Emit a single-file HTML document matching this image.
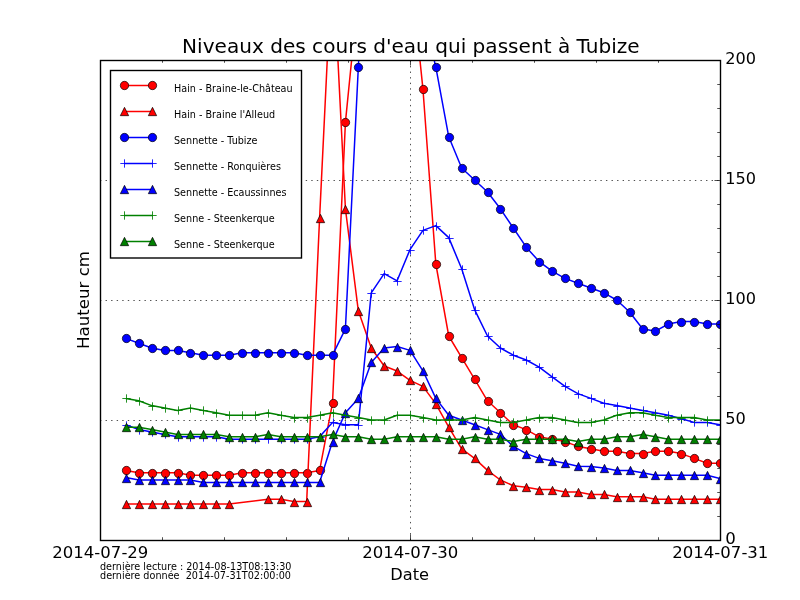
<!DOCTYPE html>
<html lang="fr"><head><meta charset="utf-8"><title>Niveaux des cours d'eau qui passent à Tubize</title>
<style>html,body{margin:0;padding:0;background:#fff}svg{display:block}</style></head>
<body>
<svg width="800" height="600" viewBox="0 0 800 600" font-family="'DejaVu Sans', 'Liberation Sans', sans-serif" fill="#000">
<rect width="800" height="600" fill="#fff"/>
<defs><clipPath id="ax"><rect x="100" y="60" width="620" height="480"/></clipPath></defs>
<g stroke="#000" stroke-width="0.69" stroke-dasharray="1.39 4.17" fill="none">
<line x1="100" x2="720" y1="420.5" y2="420.5"/>
<line x1="100" x2="720" y1="300.5" y2="300.5"/>
<line x1="100" x2="720" y1="180.5" y2="180.5"/>
<line x1="410.5" x2="410.5" y1="540" y2="60"/>
</g>
<g clip-path="url(#ax)">
<polyline points="125.83,470.4 138.75,472.8 151.67,472.8 164.58,472.8 177.5,472.8 190.42,475.2 203.33,475.2 216.25,475.2 229.17,475.2 242.08,472.8 255,472.8 267.92,472.8 280.83,472.8 293.75,472.8 306.67,472.8 319.58,470.4 332.5,403.2 345.42,122.4 358.33,-7.2 371.25,-88.8 384.17,-112.8 397.08,-88.8 410,-36 422.92,88.8 435.83,264 448.75,336 461.67,357.6 474.58,379.2 487.5,400.8 500.42,412.8 513.33,424.8 526.25,429.6 539.17,436.8 552.08,439.2 565,441.6 577.92,446.4 590.83,448.8 603.75,451.2 616.67,451.2 629.58,453.6 642.5,453.6 655.42,451.2 668.33,451.2 681.25,453.6 694.17,458.4 707.08,463.2 720,463.2" fill="none" stroke="#ff0000" stroke-width="1.5" stroke-linejoin="round"/>
<circle cx="126.5" cy="470.5" r="4.17" fill="#ff0000" stroke="#000" stroke-width="0.69"/>
<circle cx="139.5" cy="473.5" r="4.17" fill="#ff0000" stroke="#000" stroke-width="0.69"/>
<circle cx="152.5" cy="473.5" r="4.17" fill="#ff0000" stroke="#000" stroke-width="0.69"/>
<circle cx="165.5" cy="473.5" r="4.17" fill="#ff0000" stroke="#000" stroke-width="0.69"/>
<circle cx="178.5" cy="473.5" r="4.17" fill="#ff0000" stroke="#000" stroke-width="0.69"/>
<circle cx="190.5" cy="475.5" r="4.17" fill="#ff0000" stroke="#000" stroke-width="0.69"/>
<circle cx="203.5" cy="475.5" r="4.17" fill="#ff0000" stroke="#000" stroke-width="0.69"/>
<circle cx="216.5" cy="475.5" r="4.17" fill="#ff0000" stroke="#000" stroke-width="0.69"/>
<circle cx="229.5" cy="475.5" r="4.17" fill="#ff0000" stroke="#000" stroke-width="0.69"/>
<circle cx="242.5" cy="473.5" r="4.17" fill="#ff0000" stroke="#000" stroke-width="0.69"/>
<circle cx="255.5" cy="473.5" r="4.17" fill="#ff0000" stroke="#000" stroke-width="0.69"/>
<circle cx="268.5" cy="473.5" r="4.17" fill="#ff0000" stroke="#000" stroke-width="0.69"/>
<circle cx="281.5" cy="473.5" r="4.17" fill="#ff0000" stroke="#000" stroke-width="0.69"/>
<circle cx="294.5" cy="473.5" r="4.17" fill="#ff0000" stroke="#000" stroke-width="0.69"/>
<circle cx="307.5" cy="473.5" r="4.17" fill="#ff0000" stroke="#000" stroke-width="0.69"/>
<circle cx="320.5" cy="470.5" r="4.17" fill="#ff0000" stroke="#000" stroke-width="0.69"/>
<circle cx="333.5" cy="403.5" r="4.17" fill="#ff0000" stroke="#000" stroke-width="0.69"/>
<circle cx="345.5" cy="122.5" r="4.17" fill="#ff0000" stroke="#000" stroke-width="0.69"/>
<circle cx="423.5" cy="89.5" r="4.17" fill="#ff0000" stroke="#000" stroke-width="0.69"/>
<circle cx="436.5" cy="264.5" r="4.17" fill="#ff0000" stroke="#000" stroke-width="0.69"/>
<circle cx="449.5" cy="336.5" r="4.17" fill="#ff0000" stroke="#000" stroke-width="0.69"/>
<circle cx="462.5" cy="358.5" r="4.17" fill="#ff0000" stroke="#000" stroke-width="0.69"/>
<circle cx="475.5" cy="379.5" r="4.17" fill="#ff0000" stroke="#000" stroke-width="0.69"/>
<circle cx="488.5" cy="401.5" r="4.17" fill="#ff0000" stroke="#000" stroke-width="0.69"/>
<circle cx="500.5" cy="413.5" r="4.17" fill="#ff0000" stroke="#000" stroke-width="0.69"/>
<circle cx="513.5" cy="425.5" r="4.17" fill="#ff0000" stroke="#000" stroke-width="0.69"/>
<circle cx="526.5" cy="430.5" r="4.17" fill="#ff0000" stroke="#000" stroke-width="0.69"/>
<circle cx="539.5" cy="437.5" r="4.17" fill="#ff0000" stroke="#000" stroke-width="0.69"/>
<circle cx="552.5" cy="439.5" r="4.17" fill="#ff0000" stroke="#000" stroke-width="0.69"/>
<circle cx="565.5" cy="442.5" r="4.17" fill="#ff0000" stroke="#000" stroke-width="0.69"/>
<circle cx="578.5" cy="446.5" r="4.17" fill="#ff0000" stroke="#000" stroke-width="0.69"/>
<circle cx="591.5" cy="449.5" r="4.17" fill="#ff0000" stroke="#000" stroke-width="0.69"/>
<circle cx="604.5" cy="451.5" r="4.17" fill="#ff0000" stroke="#000" stroke-width="0.69"/>
<circle cx="617.5" cy="451.5" r="4.17" fill="#ff0000" stroke="#000" stroke-width="0.69"/>
<circle cx="630.5" cy="454.5" r="4.17" fill="#ff0000" stroke="#000" stroke-width="0.69"/>
<circle cx="643.5" cy="454.5" r="4.17" fill="#ff0000" stroke="#000" stroke-width="0.69"/>
<circle cx="655.5" cy="451.5" r="4.17" fill="#ff0000" stroke="#000" stroke-width="0.69"/>
<circle cx="668.5" cy="451.5" r="4.17" fill="#ff0000" stroke="#000" stroke-width="0.69"/>
<circle cx="681.5" cy="454.5" r="4.17" fill="#ff0000" stroke="#000" stroke-width="0.69"/>
<circle cx="694.5" cy="458.5" r="4.17" fill="#ff0000" stroke="#000" stroke-width="0.69"/>
<circle cx="707.5" cy="463.5" r="4.17" fill="#ff0000" stroke="#000" stroke-width="0.69"/>
<circle cx="720.5" cy="463.5" r="4.17" fill="#ff0000" stroke="#000" stroke-width="0.69"/>
<polyline points="125.83,504 138.75,504 151.67,504 164.58,504 177.5,504 190.42,504 203.33,504 216.25,504 229.17,504 267.92,499.2 280.83,499.2 293.75,501.6 306.67,501.6 319.58,218.4 332.5,-48 345.42,208.8 358.33,310.8 371.25,348 384.17,366 397.08,371.04 410,380.4 422.92,386.4 435.83,403.92 448.75,427.2 461.67,448.8 474.58,458.4 487.5,470.4 500.42,480 513.33,485.76 526.25,487.2 539.17,489.6 552.08,489.6 565,492 577.92,492 590.83,494.4 603.75,494.4 616.67,496.8 629.58,496.8 642.5,496.8 655.42,499.2 668.33,499.2 681.25,499.2 694.17,499.2 707.08,499.2 720,499.2" fill="none" stroke="#ff0000" stroke-width="1.5" stroke-linejoin="round"/>
<path d="M126.5 500.33L122.33 508.67L130.66 508.67Z" fill="#ff0000" stroke="#000" stroke-width="0.69" stroke-linejoin="miter"/>
<path d="M139.5 500.33L135.34 508.67L143.66 508.67Z" fill="#ff0000" stroke="#000" stroke-width="0.69" stroke-linejoin="miter"/>
<path d="M152.5 500.33L148.34 508.67L156.66 508.67Z" fill="#ff0000" stroke="#000" stroke-width="0.69" stroke-linejoin="miter"/>
<path d="M165.5 500.33L161.34 508.67L169.66 508.67Z" fill="#ff0000" stroke="#000" stroke-width="0.69" stroke-linejoin="miter"/>
<path d="M178.5 500.33L174.34 508.67L182.66 508.67Z" fill="#ff0000" stroke="#000" stroke-width="0.69" stroke-linejoin="miter"/>
<path d="M190.5 500.33L186.34 508.67L194.66 508.67Z" fill="#ff0000" stroke="#000" stroke-width="0.69" stroke-linejoin="miter"/>
<path d="M203.5 500.33L199.34 508.67L207.66 508.67Z" fill="#ff0000" stroke="#000" stroke-width="0.69" stroke-linejoin="miter"/>
<path d="M216.5 500.33L212.34 508.67L220.66 508.67Z" fill="#ff0000" stroke="#000" stroke-width="0.69" stroke-linejoin="miter"/>
<path d="M229.5 500.33L225.34 508.67L233.66 508.67Z" fill="#ff0000" stroke="#000" stroke-width="0.69" stroke-linejoin="miter"/>
<path d="M268.5 495.33L264.33 503.67L272.67 503.67Z" fill="#ff0000" stroke="#000" stroke-width="0.69" stroke-linejoin="miter"/>
<path d="M281.5 495.33L277.33 503.67L285.67 503.67Z" fill="#ff0000" stroke="#000" stroke-width="0.69" stroke-linejoin="miter"/>
<path d="M294.5 498.33L290.33 506.67L298.67 506.67Z" fill="#ff0000" stroke="#000" stroke-width="0.69" stroke-linejoin="miter"/>
<path d="M307.5 498.33L303.33 506.67L311.67 506.67Z" fill="#ff0000" stroke="#000" stroke-width="0.69" stroke-linejoin="miter"/>
<path d="M320.5 214.34L316.33 222.66L324.67 222.66Z" fill="#ff0000" stroke="#000" stroke-width="0.69" stroke-linejoin="miter"/>
<path d="M345.5 205.34L341.33 213.66L349.67 213.66Z" fill="#ff0000" stroke="#000" stroke-width="0.69" stroke-linejoin="miter"/>
<path d="M358.5 307.33L354.33 315.67L362.67 315.67Z" fill="#ff0000" stroke="#000" stroke-width="0.69" stroke-linejoin="miter"/>
<path d="M371.5 344.33L367.33 352.67L375.67 352.67Z" fill="#ff0000" stroke="#000" stroke-width="0.69" stroke-linejoin="miter"/>
<path d="M384.5 362.33L380.33 370.67L388.67 370.67Z" fill="#ff0000" stroke="#000" stroke-width="0.69" stroke-linejoin="miter"/>
<path d="M397.5 367.33L393.33 375.67L401.67 375.67Z" fill="#ff0000" stroke="#000" stroke-width="0.69" stroke-linejoin="miter"/>
<path d="M410.5 376.33L406.33 384.67L414.67 384.67Z" fill="#ff0000" stroke="#000" stroke-width="0.69" stroke-linejoin="miter"/>
<path d="M423.5 382.33L419.33 390.67L427.67 390.67Z" fill="#ff0000" stroke="#000" stroke-width="0.69" stroke-linejoin="miter"/>
<path d="M436.5 400.33L432.33 408.67L440.67 408.67Z" fill="#ff0000" stroke="#000" stroke-width="0.69" stroke-linejoin="miter"/>
<path d="M449.5 423.33L445.33 431.67L453.67 431.67Z" fill="#ff0000" stroke="#000" stroke-width="0.69" stroke-linejoin="miter"/>
<path d="M462.5 445.33L458.33 453.67L466.67 453.67Z" fill="#ff0000" stroke="#000" stroke-width="0.69" stroke-linejoin="miter"/>
<path d="M475.5 454.33L471.33 462.67L479.67 462.67Z" fill="#ff0000" stroke="#000" stroke-width="0.69" stroke-linejoin="miter"/>
<path d="M488.5 466.33L484.33 474.67L492.67 474.67Z" fill="#ff0000" stroke="#000" stroke-width="0.69" stroke-linejoin="miter"/>
<path d="M500.5 476.33L496.33 484.67L504.67 484.67Z" fill="#ff0000" stroke="#000" stroke-width="0.69" stroke-linejoin="miter"/>
<path d="M513.5 482.33L509.33 490.67L517.66 490.67Z" fill="#ff0000" stroke="#000" stroke-width="0.69" stroke-linejoin="miter"/>
<path d="M526.5 483.33L522.34 491.67L530.66 491.67Z" fill="#ff0000" stroke="#000" stroke-width="0.69" stroke-linejoin="miter"/>
<path d="M539.5 486.33L535.34 494.67L543.66 494.67Z" fill="#ff0000" stroke="#000" stroke-width="0.69" stroke-linejoin="miter"/>
<path d="M552.5 486.33L548.34 494.67L556.66 494.67Z" fill="#ff0000" stroke="#000" stroke-width="0.69" stroke-linejoin="miter"/>
<path d="M565.5 488.33L561.34 496.67L569.66 496.67Z" fill="#ff0000" stroke="#000" stroke-width="0.69" stroke-linejoin="miter"/>
<path d="M578.5 488.33L574.34 496.67L582.66 496.67Z" fill="#ff0000" stroke="#000" stroke-width="0.69" stroke-linejoin="miter"/>
<path d="M591.5 490.33L587.34 498.67L595.66 498.67Z" fill="#ff0000" stroke="#000" stroke-width="0.69" stroke-linejoin="miter"/>
<path d="M604.5 490.33L600.34 498.67L608.66 498.67Z" fill="#ff0000" stroke="#000" stroke-width="0.69" stroke-linejoin="miter"/>
<path d="M617.5 493.33L613.34 501.67L621.66 501.67Z" fill="#ff0000" stroke="#000" stroke-width="0.69" stroke-linejoin="miter"/>
<path d="M630.5 493.33L626.34 501.67L634.66 501.67Z" fill="#ff0000" stroke="#000" stroke-width="0.69" stroke-linejoin="miter"/>
<path d="M643.5 493.33L639.34 501.67L647.66 501.67Z" fill="#ff0000" stroke="#000" stroke-width="0.69" stroke-linejoin="miter"/>
<path d="M655.5 495.33L651.34 503.67L659.66 503.67Z" fill="#ff0000" stroke="#000" stroke-width="0.69" stroke-linejoin="miter"/>
<path d="M668.5 495.33L664.34 503.67L672.66 503.67Z" fill="#ff0000" stroke="#000" stroke-width="0.69" stroke-linejoin="miter"/>
<path d="M681.5 495.33L677.34 503.67L685.66 503.67Z" fill="#ff0000" stroke="#000" stroke-width="0.69" stroke-linejoin="miter"/>
<path d="M694.5 495.33L690.34 503.67L698.66 503.67Z" fill="#ff0000" stroke="#000" stroke-width="0.69" stroke-linejoin="miter"/>
<path d="M707.5 495.33L703.34 503.67L711.66 503.67Z" fill="#ff0000" stroke="#000" stroke-width="0.69" stroke-linejoin="miter"/>
<path d="M720.5 495.33L716.34 503.67L724.66 503.67Z" fill="#ff0000" stroke="#000" stroke-width="0.69" stroke-linejoin="miter"/>
<polyline points="125.83,338.4 138.75,343.2 151.67,348 164.58,350.4 177.5,350.4 190.42,352.8 203.33,355.2 216.25,355.2 229.17,355.2 242.08,352.8 255,352.8 267.92,352.8 280.83,352.8 293.75,352.8 306.67,355.2 319.58,355.2 332.5,355.2 345.42,328.8 358.33,67.2 371.25,-180 384.17,-228 397.08,-180 410,-84 422.92,12 435.83,67.2 448.75,136.8 461.67,168 474.58,180 487.5,192 500.42,208.8 513.33,228 526.25,247.2 539.17,261.6 552.08,271.2 565,278.4 577.92,283.2 590.83,288 603.75,292.8 616.67,300 629.58,312 642.5,328.8 655.42,331.2 668.33,324 681.25,321.6 694.17,321.6 707.08,324 720,324" fill="none" stroke="#0000ff" stroke-width="1.5" stroke-linejoin="round"/>
<circle cx="126.5" cy="338.5" r="4.17" fill="#0000ff" stroke="#000" stroke-width="0.69"/>
<circle cx="139.5" cy="343.5" r="4.17" fill="#0000ff" stroke="#000" stroke-width="0.69"/>
<circle cx="152.5" cy="348.5" r="4.17" fill="#0000ff" stroke="#000" stroke-width="0.69"/>
<circle cx="165.5" cy="350.5" r="4.17" fill="#0000ff" stroke="#000" stroke-width="0.69"/>
<circle cx="178.5" cy="350.5" r="4.17" fill="#0000ff" stroke="#000" stroke-width="0.69"/>
<circle cx="190.5" cy="353.5" r="4.17" fill="#0000ff" stroke="#000" stroke-width="0.69"/>
<circle cx="203.5" cy="355.5" r="4.17" fill="#0000ff" stroke="#000" stroke-width="0.69"/>
<circle cx="216.5" cy="355.5" r="4.17" fill="#0000ff" stroke="#000" stroke-width="0.69"/>
<circle cx="229.5" cy="355.5" r="4.17" fill="#0000ff" stroke="#000" stroke-width="0.69"/>
<circle cx="242.5" cy="353.5" r="4.17" fill="#0000ff" stroke="#000" stroke-width="0.69"/>
<circle cx="255.5" cy="353.5" r="4.17" fill="#0000ff" stroke="#000" stroke-width="0.69"/>
<circle cx="268.5" cy="353.5" r="4.17" fill="#0000ff" stroke="#000" stroke-width="0.69"/>
<circle cx="281.5" cy="353.5" r="4.17" fill="#0000ff" stroke="#000" stroke-width="0.69"/>
<circle cx="294.5" cy="353.5" r="4.17" fill="#0000ff" stroke="#000" stroke-width="0.69"/>
<circle cx="307.5" cy="355.5" r="4.17" fill="#0000ff" stroke="#000" stroke-width="0.69"/>
<circle cx="320.5" cy="355.5" r="4.17" fill="#0000ff" stroke="#000" stroke-width="0.69"/>
<circle cx="333.5" cy="355.5" r="4.17" fill="#0000ff" stroke="#000" stroke-width="0.69"/>
<circle cx="345.5" cy="329.5" r="4.17" fill="#0000ff" stroke="#000" stroke-width="0.69"/>
<circle cx="358.5" cy="67.5" r="4.17" fill="#0000ff" stroke="#000" stroke-width="0.69"/>
<circle cx="436.5" cy="67.5" r="4.17" fill="#0000ff" stroke="#000" stroke-width="0.69"/>
<circle cx="449.5" cy="137.5" r="4.17" fill="#0000ff" stroke="#000" stroke-width="0.69"/>
<circle cx="462.5" cy="168.5" r="4.17" fill="#0000ff" stroke="#000" stroke-width="0.69"/>
<circle cx="475.5" cy="180.5" r="4.17" fill="#0000ff" stroke="#000" stroke-width="0.69"/>
<circle cx="488.5" cy="192.5" r="4.17" fill="#0000ff" stroke="#000" stroke-width="0.69"/>
<circle cx="500.5" cy="209.5" r="4.17" fill="#0000ff" stroke="#000" stroke-width="0.69"/>
<circle cx="513.5" cy="228.5" r="4.17" fill="#0000ff" stroke="#000" stroke-width="0.69"/>
<circle cx="526.5" cy="247.5" r="4.17" fill="#0000ff" stroke="#000" stroke-width="0.69"/>
<circle cx="539.5" cy="262.5" r="4.17" fill="#0000ff" stroke="#000" stroke-width="0.69"/>
<circle cx="552.5" cy="271.5" r="4.17" fill="#0000ff" stroke="#000" stroke-width="0.69"/>
<circle cx="565.5" cy="278.5" r="4.17" fill="#0000ff" stroke="#000" stroke-width="0.69"/>
<circle cx="578.5" cy="283.5" r="4.17" fill="#0000ff" stroke="#000" stroke-width="0.69"/>
<circle cx="591.5" cy="288.5" r="4.17" fill="#0000ff" stroke="#000" stroke-width="0.69"/>
<circle cx="604.5" cy="293.5" r="4.17" fill="#0000ff" stroke="#000" stroke-width="0.69"/>
<circle cx="617.5" cy="300.5" r="4.17" fill="#0000ff" stroke="#000" stroke-width="0.69"/>
<circle cx="630.5" cy="312.5" r="4.17" fill="#0000ff" stroke="#000" stroke-width="0.69"/>
<circle cx="643.5" cy="329.5" r="4.17" fill="#0000ff" stroke="#000" stroke-width="0.69"/>
<circle cx="655.5" cy="331.5" r="4.17" fill="#0000ff" stroke="#000" stroke-width="0.69"/>
<circle cx="668.5" cy="324.5" r="4.17" fill="#0000ff" stroke="#000" stroke-width="0.69"/>
<circle cx="681.5" cy="322.5" r="4.17" fill="#0000ff" stroke="#000" stroke-width="0.69"/>
<circle cx="694.5" cy="322.5" r="4.17" fill="#0000ff" stroke="#000" stroke-width="0.69"/>
<circle cx="707.5" cy="324.5" r="4.17" fill="#0000ff" stroke="#000" stroke-width="0.69"/>
<circle cx="720.5" cy="324.5" r="4.17" fill="#0000ff" stroke="#000" stroke-width="0.69"/>
<polyline points="125.83,424.8 138.75,429.6 151.67,432 164.58,434.4 177.5,436.8 190.42,436.8 203.33,436.8 216.25,436.8 229.17,439.2 242.08,439.2 255,439.2 267.92,439.2 280.83,439.2 293.75,439.2 306.67,439.2 319.58,436.8 332.5,422.4 345.42,424.8 358.33,424.8 371.25,292.8 384.17,273.6 397.08,280.8 410,249.6 422.92,230.4 435.83,225.6 448.75,237.6 461.67,268.8 474.58,309.6 487.5,336 500.42,348 513.33,355.2 526.25,360 539.17,367.2 552.08,376.8 565,386.4 577.92,393.6 590.83,398.4 603.75,403.2 616.67,405.6 629.58,408 642.5,410.4 655.42,412.8 668.33,415.2 681.25,418.8 694.17,422.4 707.08,422.4 720,424.8" fill="none" stroke="#0000ff" stroke-width="1.5" stroke-linejoin="round"/>
<path d="M122.33 425.5H130.66M126.5 421.33V429.67" fill="none" stroke="#0000ff" stroke-width="0.85"/>
<path d="M135.34 430.5H143.66M139.5 426.33V434.67" fill="none" stroke="#0000ff" stroke-width="0.85"/>
<path d="M148.34 432.5H156.66M152.5 428.33V436.67" fill="none" stroke="#0000ff" stroke-width="0.85"/>
<path d="M161.34 434.5H169.66M165.5 430.33V438.67" fill="none" stroke="#0000ff" stroke-width="0.85"/>
<path d="M174.34 437.5H182.66M178.5 433.33V441.67" fill="none" stroke="#0000ff" stroke-width="0.85"/>
<path d="M186.34 437.5H194.66M190.5 433.33V441.67" fill="none" stroke="#0000ff" stroke-width="0.85"/>
<path d="M199.34 437.5H207.66M203.5 433.33V441.67" fill="none" stroke="#0000ff" stroke-width="0.85"/>
<path d="M212.34 437.5H220.66M216.5 433.33V441.67" fill="none" stroke="#0000ff" stroke-width="0.85"/>
<path d="M225.34 439.5H233.66M229.5 435.33V443.67" fill="none" stroke="#0000ff" stroke-width="0.85"/>
<path d="M238.34 439.5H246.66M242.5 435.33V443.67" fill="none" stroke="#0000ff" stroke-width="0.85"/>
<path d="M251.34 439.5H259.67M255.5 435.33V443.67" fill="none" stroke="#0000ff" stroke-width="0.85"/>
<path d="M264.33 439.5H272.67M268.5 435.33V443.67" fill="none" stroke="#0000ff" stroke-width="0.85"/>
<path d="M277.33 439.5H285.67M281.5 435.33V443.67" fill="none" stroke="#0000ff" stroke-width="0.85"/>
<path d="M290.33 439.5H298.67M294.5 435.33V443.67" fill="none" stroke="#0000ff" stroke-width="0.85"/>
<path d="M303.33 439.5H311.67M307.5 435.33V443.67" fill="none" stroke="#0000ff" stroke-width="0.85"/>
<path d="M316.33 437.5H324.67M320.5 433.33V441.67" fill="none" stroke="#0000ff" stroke-width="0.85"/>
<path d="M329.33 422.5H337.67M333.5 418.33V426.67" fill="none" stroke="#0000ff" stroke-width="0.85"/>
<path d="M341.33 425.5H349.67M345.5 421.33V429.67" fill="none" stroke="#0000ff" stroke-width="0.85"/>
<path d="M354.33 425.5H362.67M358.5 421.33V429.67" fill="none" stroke="#0000ff" stroke-width="0.85"/>
<path d="M367.33 293.5H375.67M371.5 289.33V297.67" fill="none" stroke="#0000ff" stroke-width="0.85"/>
<path d="M380.33 274.5H388.67M384.5 270.33V278.67" fill="none" stroke="#0000ff" stroke-width="0.85"/>
<path d="M393.33 281.5H401.67M397.5 277.33V285.67" fill="none" stroke="#0000ff" stroke-width="0.85"/>
<path d="M406.33 250.5H414.67M410.5 246.34V254.66" fill="none" stroke="#0000ff" stroke-width="0.85"/>
<path d="M419.33 230.5H427.67M423.5 226.34V234.66" fill="none" stroke="#0000ff" stroke-width="0.85"/>
<path d="M432.33 226.5H440.67M436.5 222.34V230.66" fill="none" stroke="#0000ff" stroke-width="0.85"/>
<path d="M445.33 238.5H453.67M449.5 234.34V242.66" fill="none" stroke="#0000ff" stroke-width="0.85"/>
<path d="M458.33 269.5H466.67M462.5 265.33V273.67" fill="none" stroke="#0000ff" stroke-width="0.85"/>
<path d="M471.33 310.5H479.67M475.5 306.33V314.67" fill="none" stroke="#0000ff" stroke-width="0.85"/>
<path d="M484.33 336.5H492.67M488.5 332.33V340.67" fill="none" stroke="#0000ff" stroke-width="0.85"/>
<path d="M496.33 348.5H504.67M500.5 344.33V352.67" fill="none" stroke="#0000ff" stroke-width="0.85"/>
<path d="M509.33 355.5H517.66M513.5 351.33V359.67" fill="none" stroke="#0000ff" stroke-width="0.85"/>
<path d="M522.34 360.5H530.66M526.5 356.33V364.67" fill="none" stroke="#0000ff" stroke-width="0.85"/>
<path d="M535.34 367.5H543.66M539.5 363.33V371.67" fill="none" stroke="#0000ff" stroke-width="0.85"/>
<path d="M548.34 377.5H556.66M552.5 373.33V381.67" fill="none" stroke="#0000ff" stroke-width="0.85"/>
<path d="M561.34 386.5H569.66M565.5 382.33V390.67" fill="none" stroke="#0000ff" stroke-width="0.85"/>
<path d="M574.34 394.5H582.66M578.5 390.33V398.67" fill="none" stroke="#0000ff" stroke-width="0.85"/>
<path d="M587.34 398.5H595.66M591.5 394.33V402.67" fill="none" stroke="#0000ff" stroke-width="0.85"/>
<path d="M600.34 403.5H608.66M604.5 399.33V407.67" fill="none" stroke="#0000ff" stroke-width="0.85"/>
<path d="M613.34 406.5H621.66M617.5 402.33V410.67" fill="none" stroke="#0000ff" stroke-width="0.85"/>
<path d="M626.34 408.5H634.66M630.5 404.33V412.67" fill="none" stroke="#0000ff" stroke-width="0.85"/>
<path d="M639.34 410.5H647.66M643.5 406.33V414.67" fill="none" stroke="#0000ff" stroke-width="0.85"/>
<path d="M651.34 413.5H659.66M655.5 409.33V417.67" fill="none" stroke="#0000ff" stroke-width="0.85"/>
<path d="M664.34 415.5H672.66M668.5 411.33V419.67" fill="none" stroke="#0000ff" stroke-width="0.85"/>
<path d="M677.34 419.5H685.66M681.5 415.33V423.67" fill="none" stroke="#0000ff" stroke-width="0.85"/>
<path d="M690.34 422.5H698.66M694.5 418.33V426.67" fill="none" stroke="#0000ff" stroke-width="0.85"/>
<path d="M703.34 422.5H711.66M707.5 418.33V426.67" fill="none" stroke="#0000ff" stroke-width="0.85"/>
<path d="M716.34 425.5H724.66M720.5 421.33V429.67" fill="none" stroke="#0000ff" stroke-width="0.85"/>
<polyline points="125.83,477.6 138.75,480 151.67,480 164.58,480 177.5,480 190.42,480 203.33,482.4 216.25,482.4 229.17,482.4 242.08,482.4 255,482.4 267.92,482.4 280.83,482.4 293.75,482.4 306.67,482.4 319.58,482.4 332.5,441.6 345.42,412.8 358.33,398.4 371.25,362.4 384.17,348 397.08,346.56 410,350.4 422.92,370.8 435.83,398.4 448.75,415.2 461.67,420 474.58,424.8 487.5,429.6 500.42,434.4 513.33,446.4 526.25,453.6 539.17,458.4 552.08,460.8 565,463.2 577.92,466.32 590.83,466.56 603.75,468 616.67,470.4 629.58,470.4 642.5,472.8 655.42,475.2 668.33,475.2 681.25,475.2 694.17,475.2 707.08,475.2 720,478.56" fill="none" stroke="#0000ff" stroke-width="1.5" stroke-linejoin="round"/>
<path d="M126.5 474.33L122.33 482.67L130.66 482.67Z" fill="#0000ff" stroke="#000" stroke-width="0.69" stroke-linejoin="miter"/>
<path d="M139.5 476.33L135.34 484.67L143.66 484.67Z" fill="#0000ff" stroke="#000" stroke-width="0.69" stroke-linejoin="miter"/>
<path d="M152.5 476.33L148.34 484.67L156.66 484.67Z" fill="#0000ff" stroke="#000" stroke-width="0.69" stroke-linejoin="miter"/>
<path d="M165.5 476.33L161.34 484.67L169.66 484.67Z" fill="#0000ff" stroke="#000" stroke-width="0.69" stroke-linejoin="miter"/>
<path d="M178.5 476.33L174.34 484.67L182.66 484.67Z" fill="#0000ff" stroke="#000" stroke-width="0.69" stroke-linejoin="miter"/>
<path d="M190.5 476.33L186.34 484.67L194.66 484.67Z" fill="#0000ff" stroke="#000" stroke-width="0.69" stroke-linejoin="miter"/>
<path d="M203.5 478.33L199.34 486.67L207.66 486.67Z" fill="#0000ff" stroke="#000" stroke-width="0.69" stroke-linejoin="miter"/>
<path d="M216.5 478.33L212.34 486.67L220.66 486.67Z" fill="#0000ff" stroke="#000" stroke-width="0.69" stroke-linejoin="miter"/>
<path d="M229.5 478.33L225.34 486.67L233.66 486.67Z" fill="#0000ff" stroke="#000" stroke-width="0.69" stroke-linejoin="miter"/>
<path d="M242.5 478.33L238.34 486.67L246.66 486.67Z" fill="#0000ff" stroke="#000" stroke-width="0.69" stroke-linejoin="miter"/>
<path d="M255.5 478.33L251.34 486.67L259.67 486.67Z" fill="#0000ff" stroke="#000" stroke-width="0.69" stroke-linejoin="miter"/>
<path d="M268.5 478.33L264.33 486.67L272.67 486.67Z" fill="#0000ff" stroke="#000" stroke-width="0.69" stroke-linejoin="miter"/>
<path d="M281.5 478.33L277.33 486.67L285.67 486.67Z" fill="#0000ff" stroke="#000" stroke-width="0.69" stroke-linejoin="miter"/>
<path d="M294.5 478.33L290.33 486.67L298.67 486.67Z" fill="#0000ff" stroke="#000" stroke-width="0.69" stroke-linejoin="miter"/>
<path d="M307.5 478.33L303.33 486.67L311.67 486.67Z" fill="#0000ff" stroke="#000" stroke-width="0.69" stroke-linejoin="miter"/>
<path d="M320.5 478.33L316.33 486.67L324.67 486.67Z" fill="#0000ff" stroke="#000" stroke-width="0.69" stroke-linejoin="miter"/>
<path d="M333.5 438.33L329.33 446.67L337.67 446.67Z" fill="#0000ff" stroke="#000" stroke-width="0.69" stroke-linejoin="miter"/>
<path d="M345.5 409.33L341.33 417.67L349.67 417.67Z" fill="#0000ff" stroke="#000" stroke-width="0.69" stroke-linejoin="miter"/>
<path d="M358.5 394.33L354.33 402.67L362.67 402.67Z" fill="#0000ff" stroke="#000" stroke-width="0.69" stroke-linejoin="miter"/>
<path d="M371.5 358.33L367.33 366.67L375.67 366.67Z" fill="#0000ff" stroke="#000" stroke-width="0.69" stroke-linejoin="miter"/>
<path d="M384.5 344.33L380.33 352.67L388.67 352.67Z" fill="#0000ff" stroke="#000" stroke-width="0.69" stroke-linejoin="miter"/>
<path d="M397.5 343.33L393.33 351.67L401.67 351.67Z" fill="#0000ff" stroke="#000" stroke-width="0.69" stroke-linejoin="miter"/>
<path d="M410.5 346.33L406.33 354.67L414.67 354.67Z" fill="#0000ff" stroke="#000" stroke-width="0.69" stroke-linejoin="miter"/>
<path d="M423.5 367.33L419.33 375.67L427.67 375.67Z" fill="#0000ff" stroke="#000" stroke-width="0.69" stroke-linejoin="miter"/>
<path d="M436.5 394.33L432.33 402.67L440.67 402.67Z" fill="#0000ff" stroke="#000" stroke-width="0.69" stroke-linejoin="miter"/>
<path d="M449.5 411.33L445.33 419.67L453.67 419.67Z" fill="#0000ff" stroke="#000" stroke-width="0.69" stroke-linejoin="miter"/>
<path d="M462.5 416.33L458.33 424.67L466.67 424.67Z" fill="#0000ff" stroke="#000" stroke-width="0.69" stroke-linejoin="miter"/>
<path d="M475.5 421.33L471.33 429.67L479.67 429.67Z" fill="#0000ff" stroke="#000" stroke-width="0.69" stroke-linejoin="miter"/>
<path d="M488.5 426.33L484.33 434.67L492.67 434.67Z" fill="#0000ff" stroke="#000" stroke-width="0.69" stroke-linejoin="miter"/>
<path d="M500.5 430.33L496.33 438.67L504.67 438.67Z" fill="#0000ff" stroke="#000" stroke-width="0.69" stroke-linejoin="miter"/>
<path d="M513.5 442.33L509.33 450.67L517.66 450.67Z" fill="#0000ff" stroke="#000" stroke-width="0.69" stroke-linejoin="miter"/>
<path d="M526.5 450.33L522.34 458.67L530.66 458.67Z" fill="#0000ff" stroke="#000" stroke-width="0.69" stroke-linejoin="miter"/>
<path d="M539.5 454.33L535.34 462.67L543.66 462.67Z" fill="#0000ff" stroke="#000" stroke-width="0.69" stroke-linejoin="miter"/>
<path d="M552.5 457.33L548.34 465.67L556.66 465.67Z" fill="#0000ff" stroke="#000" stroke-width="0.69" stroke-linejoin="miter"/>
<path d="M565.5 459.33L561.34 467.67L569.66 467.67Z" fill="#0000ff" stroke="#000" stroke-width="0.69" stroke-linejoin="miter"/>
<path d="M578.5 462.33L574.34 470.67L582.66 470.67Z" fill="#0000ff" stroke="#000" stroke-width="0.69" stroke-linejoin="miter"/>
<path d="M591.5 463.33L587.34 471.67L595.66 471.67Z" fill="#0000ff" stroke="#000" stroke-width="0.69" stroke-linejoin="miter"/>
<path d="M604.5 464.33L600.34 472.67L608.66 472.67Z" fill="#0000ff" stroke="#000" stroke-width="0.69" stroke-linejoin="miter"/>
<path d="M617.5 466.33L613.34 474.67L621.66 474.67Z" fill="#0000ff" stroke="#000" stroke-width="0.69" stroke-linejoin="miter"/>
<path d="M630.5 466.33L626.34 474.67L634.66 474.67Z" fill="#0000ff" stroke="#000" stroke-width="0.69" stroke-linejoin="miter"/>
<path d="M643.5 469.33L639.34 477.67L647.66 477.67Z" fill="#0000ff" stroke="#000" stroke-width="0.69" stroke-linejoin="miter"/>
<path d="M655.5 471.33L651.34 479.67L659.66 479.67Z" fill="#0000ff" stroke="#000" stroke-width="0.69" stroke-linejoin="miter"/>
<path d="M668.5 471.33L664.34 479.67L672.66 479.67Z" fill="#0000ff" stroke="#000" stroke-width="0.69" stroke-linejoin="miter"/>
<path d="M681.5 471.33L677.34 479.67L685.66 479.67Z" fill="#0000ff" stroke="#000" stroke-width="0.69" stroke-linejoin="miter"/>
<path d="M694.5 471.33L690.34 479.67L698.66 479.67Z" fill="#0000ff" stroke="#000" stroke-width="0.69" stroke-linejoin="miter"/>
<path d="M707.5 471.33L703.34 479.67L711.66 479.67Z" fill="#0000ff" stroke="#000" stroke-width="0.69" stroke-linejoin="miter"/>
<path d="M720.5 475.33L716.34 483.67L724.66 483.67Z" fill="#0000ff" stroke="#000" stroke-width="0.69" stroke-linejoin="miter"/>
<polyline points="125.83,398.4 138.75,400.8 151.67,405.6 164.58,408 177.5,410.4 190.42,408 203.33,410.4 216.25,412.8 229.17,415.2 242.08,415.2 255,415.2 267.92,412.8 280.83,415.2 293.75,417.6 306.67,417.6 319.58,415.2 332.5,412.8 345.42,415.2 358.33,417.6 371.25,420 384.17,420 397.08,415.2 410,415.2 422.92,417.6 435.83,420 448.75,420 461.67,420 474.58,417.6 487.5,420 500.42,422.4 513.33,422.4 526.25,420 539.17,417.6 552.08,417.6 565,420 577.92,422.4 590.83,422.4 603.75,420 616.67,415.2 629.58,412.8 642.5,412.8 655.42,415.2 668.33,417.6 681.25,417.6 694.17,417.6 707.08,420 720,420" fill="none" stroke="#008000" stroke-width="1.5" stroke-linejoin="round"/>
<path d="M122.33 398.5H130.66M126.5 394.33V402.67" fill="none" stroke="#008000" stroke-width="0.85"/>
<path d="M135.34 401.5H143.66M139.5 397.33V405.67" fill="none" stroke="#008000" stroke-width="0.85"/>
<path d="M148.34 406.5H156.66M152.5 402.33V410.67" fill="none" stroke="#008000" stroke-width="0.85"/>
<path d="M161.34 408.5H169.66M165.5 404.33V412.67" fill="none" stroke="#008000" stroke-width="0.85"/>
<path d="M174.34 410.5H182.66M178.5 406.33V414.67" fill="none" stroke="#008000" stroke-width="0.85"/>
<path d="M186.34 408.5H194.66M190.5 404.33V412.67" fill="none" stroke="#008000" stroke-width="0.85"/>
<path d="M199.34 410.5H207.66M203.5 406.33V414.67" fill="none" stroke="#008000" stroke-width="0.85"/>
<path d="M212.34 413.5H220.66M216.5 409.33V417.67" fill="none" stroke="#008000" stroke-width="0.85"/>
<path d="M225.34 415.5H233.66M229.5 411.33V419.67" fill="none" stroke="#008000" stroke-width="0.85"/>
<path d="M238.34 415.5H246.66M242.5 411.33V419.67" fill="none" stroke="#008000" stroke-width="0.85"/>
<path d="M251.34 415.5H259.67M255.5 411.33V419.67" fill="none" stroke="#008000" stroke-width="0.85"/>
<path d="M264.33 413.5H272.67M268.5 409.33V417.67" fill="none" stroke="#008000" stroke-width="0.85"/>
<path d="M277.33 415.5H285.67M281.5 411.33V419.67" fill="none" stroke="#008000" stroke-width="0.85"/>
<path d="M290.33 418.5H298.67M294.5 414.33V422.67" fill="none" stroke="#008000" stroke-width="0.85"/>
<path d="M303.33 418.5H311.67M307.5 414.33V422.67" fill="none" stroke="#008000" stroke-width="0.85"/>
<path d="M316.33 415.5H324.67M320.5 411.33V419.67" fill="none" stroke="#008000" stroke-width="0.85"/>
<path d="M329.33 413.5H337.67M333.5 409.33V417.67" fill="none" stroke="#008000" stroke-width="0.85"/>
<path d="M341.33 415.5H349.67M345.5 411.33V419.67" fill="none" stroke="#008000" stroke-width="0.85"/>
<path d="M354.33 418.5H362.67M358.5 414.33V422.67" fill="none" stroke="#008000" stroke-width="0.85"/>
<path d="M367.33 420.5H375.67M371.5 416.33V424.67" fill="none" stroke="#008000" stroke-width="0.85"/>
<path d="M380.33 420.5H388.67M384.5 416.33V424.67" fill="none" stroke="#008000" stroke-width="0.85"/>
<path d="M393.33 415.5H401.67M397.5 411.33V419.67" fill="none" stroke="#008000" stroke-width="0.85"/>
<path d="M406.33 415.5H414.67M410.5 411.33V419.67" fill="none" stroke="#008000" stroke-width="0.85"/>
<path d="M419.33 418.5H427.67M423.5 414.33V422.67" fill="none" stroke="#008000" stroke-width="0.85"/>
<path d="M432.33 420.5H440.67M436.5 416.33V424.67" fill="none" stroke="#008000" stroke-width="0.85"/>
<path d="M445.33 420.5H453.67M449.5 416.33V424.67" fill="none" stroke="#008000" stroke-width="0.85"/>
<path d="M458.33 420.5H466.67M462.5 416.33V424.67" fill="none" stroke="#008000" stroke-width="0.85"/>
<path d="M471.33 418.5H479.67M475.5 414.33V422.67" fill="none" stroke="#008000" stroke-width="0.85"/>
<path d="M484.33 420.5H492.67M488.5 416.33V424.67" fill="none" stroke="#008000" stroke-width="0.85"/>
<path d="M496.33 422.5H504.67M500.5 418.33V426.67" fill="none" stroke="#008000" stroke-width="0.85"/>
<path d="M509.33 422.5H517.66M513.5 418.33V426.67" fill="none" stroke="#008000" stroke-width="0.85"/>
<path d="M522.34 420.5H530.66M526.5 416.33V424.67" fill="none" stroke="#008000" stroke-width="0.85"/>
<path d="M535.34 418.5H543.66M539.5 414.33V422.67" fill="none" stroke="#008000" stroke-width="0.85"/>
<path d="M548.34 418.5H556.66M552.5 414.33V422.67" fill="none" stroke="#008000" stroke-width="0.85"/>
<path d="M561.34 420.5H569.66M565.5 416.33V424.67" fill="none" stroke="#008000" stroke-width="0.85"/>
<path d="M574.34 422.5H582.66M578.5 418.33V426.67" fill="none" stroke="#008000" stroke-width="0.85"/>
<path d="M587.34 422.5H595.66M591.5 418.33V426.67" fill="none" stroke="#008000" stroke-width="0.85"/>
<path d="M600.34 420.5H608.66M604.5 416.33V424.67" fill="none" stroke="#008000" stroke-width="0.85"/>
<path d="M613.34 415.5H621.66M617.5 411.33V419.67" fill="none" stroke="#008000" stroke-width="0.85"/>
<path d="M626.34 413.5H634.66M630.5 409.33V417.67" fill="none" stroke="#008000" stroke-width="0.85"/>
<path d="M639.34 413.5H647.66M643.5 409.33V417.67" fill="none" stroke="#008000" stroke-width="0.85"/>
<path d="M651.34 415.5H659.66M655.5 411.33V419.67" fill="none" stroke="#008000" stroke-width="0.85"/>
<path d="M664.34 418.5H672.66M668.5 414.33V422.67" fill="none" stroke="#008000" stroke-width="0.85"/>
<path d="M677.34 418.5H685.66M681.5 414.33V422.67" fill="none" stroke="#008000" stroke-width="0.85"/>
<path d="M690.34 418.5H698.66M694.5 414.33V422.67" fill="none" stroke="#008000" stroke-width="0.85"/>
<path d="M703.34 420.5H711.66M707.5 416.33V424.67" fill="none" stroke="#008000" stroke-width="0.85"/>
<path d="M716.34 420.5H724.66M720.5 416.33V424.67" fill="none" stroke="#008000" stroke-width="0.85"/>
<polyline points="125.83,427.2 138.75,427.2 151.67,429.6 164.58,432 177.5,434.4 190.42,434.4 203.33,434.4 216.25,434.4 229.17,436.8 242.08,436.8 255,436.8 267.92,434.4 280.83,436.8 293.75,436.8 306.67,436.8 319.58,436.8 332.5,434.4 345.42,436.8 358.33,436.8 371.25,439.2 384.17,439.2 397.08,436.8 410,436.8 422.92,436.8 435.83,436.8 448.75,439.2 461.67,439.2 474.58,436.8 487.5,439.2 500.42,439.2 513.33,441.6 526.25,439.2 539.17,439.2 552.08,439.2 565,439.2 577.92,441.6 590.83,439.2 603.75,439.2 616.67,436.8 629.58,436.8 642.5,434.4 655.42,436.8 668.33,439.2 681.25,439.2 694.17,439.2 707.08,439.2 720,439.2" fill="none" stroke="#008000" stroke-width="1.5" stroke-linejoin="round"/>
<path d="M126.5 423.33L122.33 431.67L130.66 431.67Z" fill="#008000" stroke="#000" stroke-width="0.69" stroke-linejoin="miter"/>
<path d="M139.5 423.33L135.34 431.67L143.66 431.67Z" fill="#008000" stroke="#000" stroke-width="0.69" stroke-linejoin="miter"/>
<path d="M152.5 426.33L148.34 434.67L156.66 434.67Z" fill="#008000" stroke="#000" stroke-width="0.69" stroke-linejoin="miter"/>
<path d="M165.5 428.33L161.34 436.67L169.66 436.67Z" fill="#008000" stroke="#000" stroke-width="0.69" stroke-linejoin="miter"/>
<path d="M178.5 430.33L174.34 438.67L182.66 438.67Z" fill="#008000" stroke="#000" stroke-width="0.69" stroke-linejoin="miter"/>
<path d="M190.5 430.33L186.34 438.67L194.66 438.67Z" fill="#008000" stroke="#000" stroke-width="0.69" stroke-linejoin="miter"/>
<path d="M203.5 430.33L199.34 438.67L207.66 438.67Z" fill="#008000" stroke="#000" stroke-width="0.69" stroke-linejoin="miter"/>
<path d="M216.5 430.33L212.34 438.67L220.66 438.67Z" fill="#008000" stroke="#000" stroke-width="0.69" stroke-linejoin="miter"/>
<path d="M229.5 433.33L225.34 441.67L233.66 441.67Z" fill="#008000" stroke="#000" stroke-width="0.69" stroke-linejoin="miter"/>
<path d="M242.5 433.33L238.34 441.67L246.66 441.67Z" fill="#008000" stroke="#000" stroke-width="0.69" stroke-linejoin="miter"/>
<path d="M255.5 433.33L251.34 441.67L259.67 441.67Z" fill="#008000" stroke="#000" stroke-width="0.69" stroke-linejoin="miter"/>
<path d="M268.5 430.33L264.33 438.67L272.67 438.67Z" fill="#008000" stroke="#000" stroke-width="0.69" stroke-linejoin="miter"/>
<path d="M281.5 433.33L277.33 441.67L285.67 441.67Z" fill="#008000" stroke="#000" stroke-width="0.69" stroke-linejoin="miter"/>
<path d="M294.5 433.33L290.33 441.67L298.67 441.67Z" fill="#008000" stroke="#000" stroke-width="0.69" stroke-linejoin="miter"/>
<path d="M307.5 433.33L303.33 441.67L311.67 441.67Z" fill="#008000" stroke="#000" stroke-width="0.69" stroke-linejoin="miter"/>
<path d="M320.5 433.33L316.33 441.67L324.67 441.67Z" fill="#008000" stroke="#000" stroke-width="0.69" stroke-linejoin="miter"/>
<path d="M333.5 430.33L329.33 438.67L337.67 438.67Z" fill="#008000" stroke="#000" stroke-width="0.69" stroke-linejoin="miter"/>
<path d="M345.5 433.33L341.33 441.67L349.67 441.67Z" fill="#008000" stroke="#000" stroke-width="0.69" stroke-linejoin="miter"/>
<path d="M358.5 433.33L354.33 441.67L362.67 441.67Z" fill="#008000" stroke="#000" stroke-width="0.69" stroke-linejoin="miter"/>
<path d="M371.5 435.33L367.33 443.67L375.67 443.67Z" fill="#008000" stroke="#000" stroke-width="0.69" stroke-linejoin="miter"/>
<path d="M384.5 435.33L380.33 443.67L388.67 443.67Z" fill="#008000" stroke="#000" stroke-width="0.69" stroke-linejoin="miter"/>
<path d="M397.5 433.33L393.33 441.67L401.67 441.67Z" fill="#008000" stroke="#000" stroke-width="0.69" stroke-linejoin="miter"/>
<path d="M410.5 433.33L406.33 441.67L414.67 441.67Z" fill="#008000" stroke="#000" stroke-width="0.69" stroke-linejoin="miter"/>
<path d="M423.5 433.33L419.33 441.67L427.67 441.67Z" fill="#008000" stroke="#000" stroke-width="0.69" stroke-linejoin="miter"/>
<path d="M436.5 433.33L432.33 441.67L440.67 441.67Z" fill="#008000" stroke="#000" stroke-width="0.69" stroke-linejoin="miter"/>
<path d="M449.5 435.33L445.33 443.67L453.67 443.67Z" fill="#008000" stroke="#000" stroke-width="0.69" stroke-linejoin="miter"/>
<path d="M462.5 435.33L458.33 443.67L466.67 443.67Z" fill="#008000" stroke="#000" stroke-width="0.69" stroke-linejoin="miter"/>
<path d="M475.5 433.33L471.33 441.67L479.67 441.67Z" fill="#008000" stroke="#000" stroke-width="0.69" stroke-linejoin="miter"/>
<path d="M488.5 435.33L484.33 443.67L492.67 443.67Z" fill="#008000" stroke="#000" stroke-width="0.69" stroke-linejoin="miter"/>
<path d="M500.5 435.33L496.33 443.67L504.67 443.67Z" fill="#008000" stroke="#000" stroke-width="0.69" stroke-linejoin="miter"/>
<path d="M513.5 438.33L509.33 446.67L517.66 446.67Z" fill="#008000" stroke="#000" stroke-width="0.69" stroke-linejoin="miter"/>
<path d="M526.5 435.33L522.34 443.67L530.66 443.67Z" fill="#008000" stroke="#000" stroke-width="0.69" stroke-linejoin="miter"/>
<path d="M539.5 435.33L535.34 443.67L543.66 443.67Z" fill="#008000" stroke="#000" stroke-width="0.69" stroke-linejoin="miter"/>
<path d="M552.5 435.33L548.34 443.67L556.66 443.67Z" fill="#008000" stroke="#000" stroke-width="0.69" stroke-linejoin="miter"/>
<path d="M565.5 435.33L561.34 443.67L569.66 443.67Z" fill="#008000" stroke="#000" stroke-width="0.69" stroke-linejoin="miter"/>
<path d="M578.5 438.33L574.34 446.67L582.66 446.67Z" fill="#008000" stroke="#000" stroke-width="0.69" stroke-linejoin="miter"/>
<path d="M591.5 435.33L587.34 443.67L595.66 443.67Z" fill="#008000" stroke="#000" stroke-width="0.69" stroke-linejoin="miter"/>
<path d="M604.5 435.33L600.34 443.67L608.66 443.67Z" fill="#008000" stroke="#000" stroke-width="0.69" stroke-linejoin="miter"/>
<path d="M617.5 433.33L613.34 441.67L621.66 441.67Z" fill="#008000" stroke="#000" stroke-width="0.69" stroke-linejoin="miter"/>
<path d="M630.5 433.33L626.34 441.67L634.66 441.67Z" fill="#008000" stroke="#000" stroke-width="0.69" stroke-linejoin="miter"/>
<path d="M643.5 430.33L639.34 438.67L647.66 438.67Z" fill="#008000" stroke="#000" stroke-width="0.69" stroke-linejoin="miter"/>
<path d="M655.5 433.33L651.34 441.67L659.66 441.67Z" fill="#008000" stroke="#000" stroke-width="0.69" stroke-linejoin="miter"/>
<path d="M668.5 435.33L664.34 443.67L672.66 443.67Z" fill="#008000" stroke="#000" stroke-width="0.69" stroke-linejoin="miter"/>
<path d="M681.5 435.33L677.34 443.67L685.66 443.67Z" fill="#008000" stroke="#000" stroke-width="0.69" stroke-linejoin="miter"/>
<path d="M694.5 435.33L690.34 443.67L698.66 443.67Z" fill="#008000" stroke="#000" stroke-width="0.69" stroke-linejoin="miter"/>
<path d="M707.5 435.33L703.34 443.67L711.66 443.67Z" fill="#008000" stroke="#000" stroke-width="0.69" stroke-linejoin="miter"/>
<path d="M720.5 435.33L716.34 443.67L724.66 443.67Z" fill="#008000" stroke="#000" stroke-width="0.69" stroke-linejoin="miter"/>
</g>
<rect x="100.5" y="60.5" width="620" height="480" fill="none" stroke="#000" stroke-width="1.39"/>
<g stroke="#000" stroke-width="0.69">
<line x1="100.5" x2="100.5" y1="540" y2="534.44"/>
<line x1="100.5" x2="100.5" y1="60" y2="65.56"/>
<line x1="162.5" x2="162.5" y1="540" y2="537.22"/>
<line x1="162.5" x2="162.5" y1="60" y2="62.78"/>
<line x1="224.5" x2="224.5" y1="540" y2="537.22"/>
<line x1="224.5" x2="224.5" y1="60" y2="62.78"/>
<line x1="286.5" x2="286.5" y1="540" y2="537.22"/>
<line x1="286.5" x2="286.5" y1="60" y2="62.78"/>
<line x1="348.5" x2="348.5" y1="540" y2="537.22"/>
<line x1="348.5" x2="348.5" y1="60" y2="62.78"/>
<line x1="410.5" x2="410.5" y1="540" y2="534.44"/>
<line x1="410.5" x2="410.5" y1="60" y2="65.56"/>
<line x1="472.5" x2="472.5" y1="540" y2="537.22"/>
<line x1="472.5" x2="472.5" y1="60" y2="62.78"/>
<line x1="534.5" x2="534.5" y1="540" y2="537.22"/>
<line x1="534.5" x2="534.5" y1="60" y2="62.78"/>
<line x1="596.5" x2="596.5" y1="540" y2="537.22"/>
<line x1="596.5" x2="596.5" y1="60" y2="62.78"/>
<line x1="658.5" x2="658.5" y1="540" y2="537.22"/>
<line x1="658.5" x2="658.5" y1="60" y2="62.78"/>
<line x1="720.5" x2="720.5" y1="540" y2="534.44"/>
<line x1="720.5" x2="720.5" y1="60" y2="65.56"/>
<line x1="720" x2="714.44" y1="540.5" y2="540.5"/>
<line x1="720" x2="717.22" y1="516.5" y2="516.5"/>
<line x1="720" x2="717.22" y1="492.5" y2="492.5"/>
<line x1="720" x2="717.22" y1="468.5" y2="468.5"/>
<line x1="720" x2="717.22" y1="444.5" y2="444.5"/>
<line x1="720" x2="714.44" y1="420.5" y2="420.5"/>
<line x1="720" x2="717.22" y1="396.5" y2="396.5"/>
<line x1="720" x2="717.22" y1="372.5" y2="372.5"/>
<line x1="720" x2="717.22" y1="348.5" y2="348.5"/>
<line x1="720" x2="717.22" y1="324.5" y2="324.5"/>
<line x1="720" x2="714.44" y1="300.5" y2="300.5"/>
<line x1="720" x2="717.22" y1="276.5" y2="276.5"/>
<line x1="720" x2="717.22" y1="252.5" y2="252.5"/>
<line x1="720" x2="717.22" y1="228.5" y2="228.5"/>
<line x1="720" x2="717.22" y1="204.5" y2="204.5"/>
<line x1="720" x2="714.44" y1="180.5" y2="180.5"/>
<line x1="720" x2="717.22" y1="156.5" y2="156.5"/>
<line x1="720" x2="717.22" y1="132.5" y2="132.5"/>
<line x1="720" x2="717.22" y1="108.5" y2="108.5"/>
<line x1="720" x2="717.22" y1="84.5" y2="84.5"/>
<line x1="720" x2="714.44" y1="60.5" y2="60.5"/>
</g>
<g font-size="16.67px">
<text x="725.3" y="544.1" textLength="10.6" lengthAdjust="spacingAndGlyphs">0</text>
<text x="725.3" y="424.1" textLength="20.6" lengthAdjust="spacingAndGlyphs">50</text>
<text x="725.3" y="304.1" textLength="30.8" lengthAdjust="spacingAndGlyphs">100</text>
<text x="725.3" y="184.1" textLength="30.8" lengthAdjust="spacingAndGlyphs">150</text>
<text x="725.3" y="64.1" textLength="30.8" lengthAdjust="spacingAndGlyphs">200</text>
<text x="52.3" y="558" textLength="96.1" lengthAdjust="spacingAndGlyphs">2014-07-29</text>
<text x="362.3" y="558" textLength="96.1" lengthAdjust="spacingAndGlyphs">2014-07-30</text>
<text x="672.3" y="558" textLength="96.1" lengthAdjust="spacingAndGlyphs">2014-07-31</text>
<text x="390.2" y="579.7" textLength="38.8" lengthAdjust="spacingAndGlyphs">Date</text>
<text transform="translate(89.4 300) rotate(-90)" text-anchor="middle">Hauteur cm</text>
</g>
<text x="182.1" y="53.2" font-size="20px" textLength="457.6" lengthAdjust="spacingAndGlyphs">Niveaux des cours d'eau qui passent à Tubize</text>
<g font-size="9.72px">
<text x="100" y="569.7" textLength="191.5" lengthAdjust="spacingAndGlyphs">dernière lecture : 2014-08-13T08:13:30</text>
<text x="100" y="578.7" style="white-space:pre" textLength="191" lengthAdjust="spacingAndGlyphs">dernière donnée  2014-07-31T02:00:00</text>
</g>
<rect x="110.5" y="70.5" width="191" height="187.5" fill="#fff" stroke="#000" stroke-width="1.39"/>
<g font-size="9.63px">
<line x1="124.5" x2="152.5" y1="85.5" y2="85.5" stroke="#ff0000" stroke-width="1.5"/>
<circle cx="124.5" cy="85.5" r="4.17" fill="#ff0000" stroke="#000" stroke-width="0.69"/>
<circle cx="152.5" cy="85.5" r="4.17" fill="#ff0000" stroke="#000" stroke-width="0.69"/>
<text x="174" y="91.7">Hain - Braine-le-Château</text>
<line x1="124.5" x2="152.5" y1="111.5" y2="111.5" stroke="#ff0000" stroke-width="1.5"/>
<path d="M124.5 107.33L120.33 115.67L128.66 115.67Z" fill="#ff0000" stroke="#000" stroke-width="0.69" stroke-linejoin="miter"/>
<path d="M152.5 107.33L148.34 115.67L156.66 115.67Z" fill="#ff0000" stroke="#000" stroke-width="0.69" stroke-linejoin="miter"/>
<text x="174" y="117.7">Hain - Braine l'Alleud</text>
<line x1="124.5" x2="152.5" y1="137.5" y2="137.5" stroke="#0000ff" stroke-width="1.5"/>
<circle cx="124.5" cy="137.5" r="4.17" fill="#0000ff" stroke="#000" stroke-width="0.69"/>
<circle cx="152.5" cy="137.5" r="4.17" fill="#0000ff" stroke="#000" stroke-width="0.69"/>
<text x="174" y="143.7">Sennette - Tubize</text>
<line x1="124.5" x2="152.5" y1="163.5" y2="163.5" stroke="#0000ff" stroke-width="1.5"/>
<path d="M120.33 163.5H128.66M124.5 159.34V167.66" fill="none" stroke="#0000ff" stroke-width="0.85"/>
<path d="M148.34 163.5H156.66M152.5 159.34V167.66" fill="none" stroke="#0000ff" stroke-width="0.85"/>
<text x="174" y="169.7">Sennette - Ronquières</text>
<line x1="124.5" x2="152.5" y1="189.5" y2="189.5" stroke="#0000ff" stroke-width="1.5"/>
<path d="M124.5 185.34L120.33 193.66L128.66 193.66Z" fill="#0000ff" stroke="#000" stroke-width="0.69" stroke-linejoin="miter"/>
<path d="M152.5 185.34L148.34 193.66L156.66 193.66Z" fill="#0000ff" stroke="#000" stroke-width="0.69" stroke-linejoin="miter"/>
<text x="174" y="195.7">Sennette - Ecaussinnes</text>
<line x1="124.5" x2="152.5" y1="215.5" y2="215.5" stroke="#008000" stroke-width="1.5"/>
<path d="M120.33 215.5H128.66M124.5 211.34V219.66" fill="none" stroke="#008000" stroke-width="0.85"/>
<path d="M148.34 215.5H156.66M152.5 211.34V219.66" fill="none" stroke="#008000" stroke-width="0.85"/>
<text x="174" y="221.7">Senne - Steenkerque</text>
<line x1="124.5" x2="152.5" y1="241.5" y2="241.5" stroke="#008000" stroke-width="1.5"/>
<path d="M124.5 237.34L120.33 245.66L128.66 245.66Z" fill="#008000" stroke="#000" stroke-width="0.69" stroke-linejoin="miter"/>
<path d="M152.5 237.34L148.34 245.66L156.66 245.66Z" fill="#008000" stroke="#000" stroke-width="0.69" stroke-linejoin="miter"/>
<text x="174" y="247.7">Senne - Steenkerque</text>
</g>
</svg>
</body></html>
